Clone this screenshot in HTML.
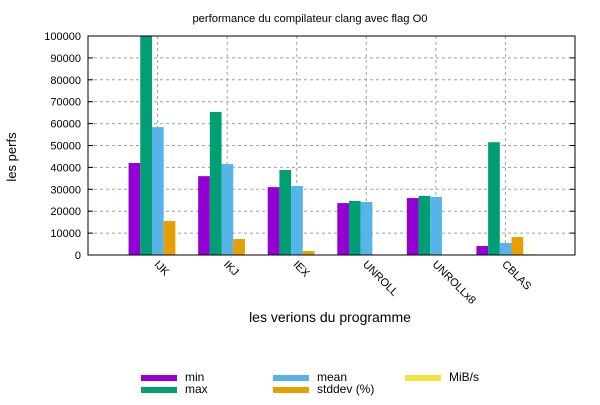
<!DOCTYPE html>
<html><head><meta charset="utf-8"><style>
body{margin:0;background:#fff;font-family:"Liberation Sans",sans-serif}
</style></head><body>
<svg id="c" width="600" height="400" xmlns="http://www.w3.org/2000/svg" font-family="Liberation Sans, sans-serif"></svg>
<script>
const categories=["IJK","IKJ","IEX","UNROLL","UNROLLx8","CBLAS"];
const seriesNames=["min","max","mean","stddev (%)","MiB/s"];
const minVals=[42000,36000,31000,23700,26000,4100];
const maxVals=[100000,65300,38800,24700,27000,51500];
const meanVals=[58400,41500,31500,24200,26500,5500];
const stddevVals=[15500,7300,1800,0,0,8200];
const mibVals=[0,0,0,0,0,500];
const yTicks=[0,10000,20000,30000,40000,50000,60000,70000,80000,90000,100000];
const colors=["#9400d3","#009e73","#56b4e9","#e69f00","#f0e442"];
const series=[minVals,maxVals,meanVals,stddevVals,mibVals];
const L=88,R=575,T=36,B=255;
const x=i=>L+(i+1)*(R-L)/7;
const y=v=>B-(v/100000)*(B-T);
const svg=document.getElementById('c');
const NS="http://www.w3.org/2000/svg";
function mk(tag,attrs,txt){const e=document.createElementNS(NS,tag);for(const k in attrs)e.setAttribute(k,attrs[k]);if(txt!==undefined)e.textContent=txt;svg.appendChild(e);return e;}
yTicks.forEach(t=>{
 if(t>0&&t<100000){const g=mk('line',{x1:L,x2:R,y1:y(t),y2:y(t),stroke:'#a0a0a0','stroke-dasharray':'3,3'});
 
 }
 const tk=mk('line',{x1:L,x2:L+5,y1:y(t),y2:y(t),stroke:'#000'});
 
 
 const tk2=mk('line',{x1:R,x2:R-5,y1:y(t),y2:y(t),stroke:'#000'});
 
 
 const lb=mk('text',{x:L-7,y:y(t)+4,'text-anchor':'end','font-size':'11'},t);
 
 
});
categories.forEach((c,i)=>{
 const g=mk('line',{x1:x(i),x2:x(i),y1:T,y2:B,stroke:'#a0a0a0','stroke-dasharray':'3,3'});
 
 
});
const bw=11.7;
series.forEach((s,k)=>{
 s.forEach((v,i)=>{
  if(v<=0)return;
  const x0=x(i)-29+k*bw;
  const r=mk('rect',{x:x0,y:y(v),width:bw,height:B-y(v),fill:colors[k]});
  
  
 });
});
categories.forEach((c,i)=>{
 const tx=x(i)-4, ty=B+10;
 const t=mk('text',{x:tx,y:ty,'font-size':'11',transform:`rotate(45 ${tx} ${ty})`},c);
 
 
});
const fr=mk('rect',{x:L,y:T,width:R-L,height:B-T,fill:'none',stroke:'#000','stroke-width':1});


const ti=mk('text',{x:310,y:22,'text-anchor':'middle','font-size':'11.2'},'performance du compilateur clang avec flag O0');


const xt=mk('text',{x:330,y:322,'text-anchor':'middle','font-size':'14'},'les verions du programme');


const yt=mk('text',{x:16,y:157,'text-anchor':'middle','font-size':'13',transform:'rotate(-90 16 157)'},'les perfs');


const lp=[[141,375],[141,387],[273,375],[273,387],[405,375]];
seriesNames.forEach((n,k)=>{
 const [lx,ly]=lp[k];
 const sw=mk('rect',{x:lx,y:ly,width:36,height:6,fill:colors[k]});
 
 
 const tx=mk('text',{x:lx+44,y:ly+6,'font-size':'12'},n);
 
 
});
</script>
</body></html>
